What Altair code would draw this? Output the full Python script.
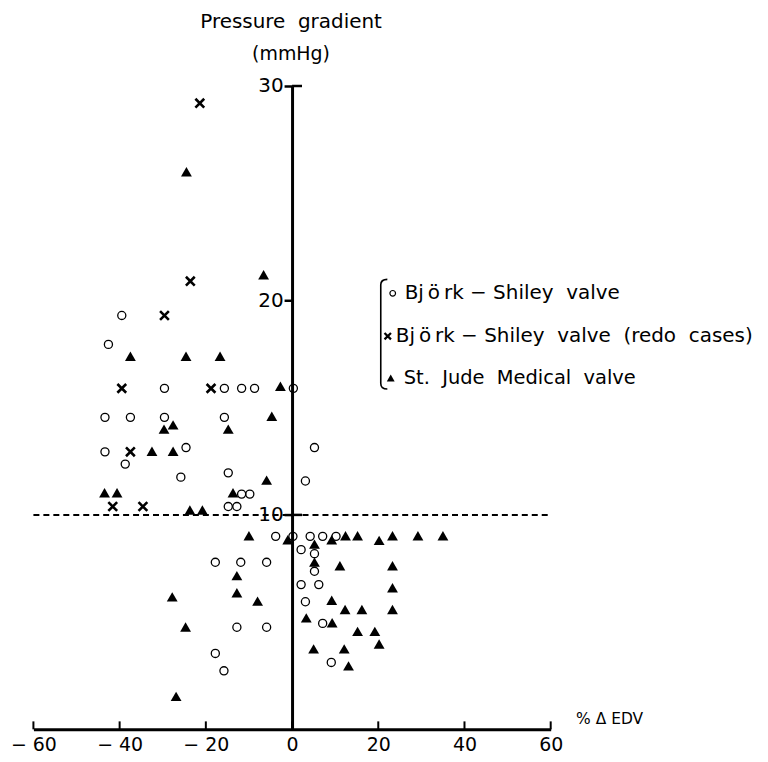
import altair as alt
import pandas as pd

# ---- data ----
bs_x = [-39.5, -42.6, -29.6, -15.7, -11.7, -8.7, 0.3, -43.4, -37.5, -29.6, -15.7, -43.4, -24.6, -38.7,
        -25.8, -14.8, -11.7, -9.8, -14.8, -12.8, 5.2, 3.1, -3.8, 0.2, 4.2, 7.1, 10.2, 2.1, 5.2, 5.2,
        -17.8, -11.9, -5.9, 2.1, 6.2, 3.1, 7.1, -12.8, -5.9, -17.8, -15.8, 9.1]
bs_y = [19.3, 17.95, 15.9, 15.9, 15.9, 15.9, 15.9, 14.55, 14.55, 14.55, 14.55, 12.94, 13.14, 12.37,
        11.76, 11.96, 10.97, 10.97, 10.39, 10.39, 13.14, 11.58, 9.0, 9.0, 9.0, 9.0, 9.0, 8.38, 8.19, 7.37,
        7.79, 7.79, 7.79, 6.75, 6.75, 5.95, 4.94, 4.76, 4.76, 3.54, 2.73, 3.12]

redo_x = [-21.4, -23.6, -29.6, -39.5, -18.8, -37.5, -41.6, -34.6]
redo_y = [29.2, 20.9, 19.3, 15.9, 15.9, 12.94, 10.39, 10.39]

sj_x = [-24.5, -6.6, -37.5, -24.6, -16.7, -2.7, -27.6, -29.7, -14.8, -4.7, -32.5, -27.6, -5.9, -43.5,
        -40.6, -13.7, -23.7, -20.8, -10.0, -1.0, -12.8, -12.8, -27.8, -8.0, -24.7, -26.9, 5.2, 9.2,
        12.4, 15.2, 20.2, 23.3, 29.2, 35.0, 5.2, 11.1, 23.3, 23.3, 9.2, 12.3, 16.2, 23.3, 3.3, 9.3,
        15.2, 19.2, 20.2, 5.0, 12.1, 13.1]
sj_y = [26.0, 21.2, 17.4, 17.4, 17.4, 16.0, 14.2, 14.0, 14.0, 14.6, 12.97, 12.97, 11.62, 11.03,
        11.03, 11.03, 10.23, 10.23, 9.03, 8.84, 7.17, 6.37, 6.18, 5.98, 4.77, 1.54, 8.64, 8.84,
        9.03, 9.03, 8.81, 9.03, 9.03, 9.03, 7.8, 7.63, 7.63, 6.6, 6.02, 5.59, 5.59, 5.59, 5.2, 4.97,
        4.57, 4.57, 3.98, 3.75, 3.75, 2.96]

x_ticks = [-60, -40, -20, 0, 20, 40, 60]
y_ticks = [10, 20, 30]
threshold = 10

legend_labels = ["Bj\u2009\u00f6\u2009rk \u2212 Shiley\u00a0\u00a0valve",
                 "Bj\u2009\u00f6\u2009rk \u2212 Shiley\u00a0\u00a0valve\u00a0\u00a0(redo\u00a0\u00a0cases)",
                 "St.\u00a0\u00a0Jude\u00a0\u00a0Medical\u00a0\u00a0valve"]

# ---- layout ----
W, H = 519, 645.5
X0 = W / 2
FONT = "DejaVu Sans"

xs = alt.Scale(domain=[-60, 60], nice=False, zero=False)
ys = alt.Scale(domain=[0, 30], nice=False, zero=False)

x_axis = alt.Axis(values=x_ticks, ticks=False, grid=False, title=None, domainWidth=3,
                  domainColor="black", labelColor="black", labelFont=FONT, labelFontSize=19,
                  labelPadding=6, labelFlush=False, labelOverlap=False,
                  labelExpr="datum.value < 0 ? '\u2212 ' + (-datum.value) : datum.label")
y_axis = alt.Axis(values=y_ticks, offset=-X0, grid=False, title=None, domainWidth=3,
                  domainColor="black", tickColor="black", tickSize=8, tickWidth=2.5,
                  labelColor="black", labelFont=FONT, labelFontSize=20, labelPadding=1,
                  labelFlush=False, labelOverlap=False)

X = lambda f="x": alt.X(f"{f}:Q", scale=xs, axis=x_axis)
Y = lambda f="y": alt.Y(f"{f}:Q", scale=ys, axis=y_axis)

circles = alt.Chart(pd.DataFrame({"x": bs_x, "y": bs_y})).mark_point(
    shape="circle", filled=False, color="black", strokeWidth=1.3, size=66, opacity=1
).encode(x=X(), y=Y())

crosses = alt.Chart(pd.DataFrame({"x": redo_x, "y": redo_y})).mark_point(
    shape="M-1,-1L1,1M-1,1L1,-1", filled=False, color="black", strokeWidth=2.6, size=78, opacity=1
).encode(x=X(), y=Y())

triangles = alt.Chart(pd.DataFrame({"x": sj_x, "y": sj_y})).mark_point(
    shape="triangle-up", filled=True, color="black", size=118, opacity=1
).encode(x=X(), y=Y())

dashed = alt.Chart(pd.DataFrame({"x": [x_ticks[0]], "x2": [x_ticks[-1]], "y": [threshold]})).mark_rule(
    color="black", strokeWidth=2, strokeDash=[6, 4]
).encode(x=X(), x2="x2:Q", y=Y())

xtick_rules = alt.Chart(pd.DataFrame({"x": x_ticks, "y": [0] * len(x_ticks)})).mark_rule(
    color="black", strokeWidth=2
).encode(x=X(), y=Y(), y2=alt.value(H - 8))

right_ticks = alt.Chart(pd.DataFrame({"x": [0, 0], "y": [30, 10]})).mark_rule(
    color="black", strokeWidth=2.5
).encode(x=X(), x2=alt.value(X0 + 10), y=Y())

def label(text, x, y, size=19, align="center", baseline="middle"):
    return alt.Chart(pd.DataFrame({"t": [text]})).mark_text(
        font=FONT, fontSize=size, color="black", align=align, baseline=baseline
    ).encode(text="t:N", x=alt.value(x), y=alt.value(y))

ox, oy = 33.5, 85  # page position of the plot origin (top-left)

titles = [
    label("Pressure\u00a0\u00a0gradient", 292 - ox, 21 - oy, size=20),
    label("(mmHg)", 292 - ox, 53 - oy),
    label("%\u00a0\u0394\u00a0EDV", 578 - ox, 720 - oy, size=15.5, align="left"),
]

rows_y = [293, 336, 378]
leg_text = [
    label(legend_labels[0], 406 - ox, rows_y[0] - oy, size=20, align="left"),
    label(legend_labels[1], 397 - ox, rows_y[1] - oy, size=20, align="left"),
    label(legend_labels[2], 405 - ox, rows_y[2] - oy, size=19.5, align="left"),
]

def sym(shape, x, y, size, filled, sw=1.2):
    return alt.Chart(pd.DataFrame({"a": [0]})).mark_point(
        shape=shape, filled=filled, color="black", size=size, strokeWidth=sw, opacity=1
    ).encode(x=alt.value(x), y=alt.value(y))

leg_syms = [
    sym("circle", 394 - ox, rows_y[0] - oy, 32, False),
    sym("M-1,-1L1,1M-1,1L1,-1", 389 - ox, rows_y[1] - oy, 42, False, 2.2),
    sym("triangle-up", 392 - ox, rows_y[2] - oy, 62, True),
    sym("M0.12,-1Q0,-1,0,-0.9L0,0.9Q0,1,0.12,1", 382 - ox, 334 - oy, 110 * 110, False, 1.6),
]

chart = alt.layer(
    circles, dashed, xtick_rules, right_ticks, crosses, triangles, *titles, *leg_text, *leg_syms
).properties(
    width=W, height=H,
    autosize=alt.AutoSizeParams(type="none"),
    padding={"left": 25.5, "top": 77, "right": 210, "bottom": 30},
).configure_view(stroke=None)

chart.save("out.html", embed_options={"renderer": "svg", "actions": False})
